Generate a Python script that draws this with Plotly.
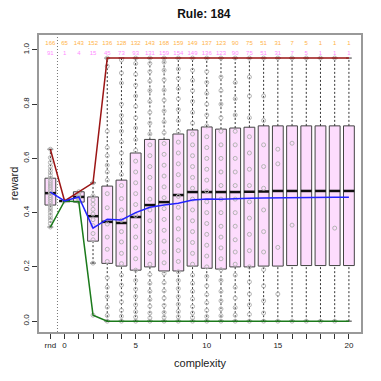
import plotly.graph_objects as go

labels = ["rnd"] + [str(i) for i in range(21)]
positions = [-1] + list(range(21))

q1 = [0.428, 0.443, 0.439, 0.295, 0.213, 0.203, 0.188, 0.200, 0.185, 0.185, 0.203,
      0.195, 0.192, 0.200, 0.200, 0.203, 0.203, 0.205, 0.205, 0.205, 0.205, 0.205]
median = [0.472, 0.443, 0.458, 0.387, 0.366, 0.362, 0.384, 0.428, 0.439, 0.465, 0.476,
          0.476, 0.476, 0.476, 0.477, 0.478, 0.480, 0.480, 0.480, 0.480, 0.480, 0.480]
q3 = [0.527, 0.443, 0.477, 0.458, 0.498, 0.520, 0.620, 0.670, 0.670, 0.690, 0.705,
      0.716, 0.708, 0.712, 0.715, 0.720, 0.720, 0.720, 0.720, 0.720, 0.720, 0.720]
whisk_lo = [0.347, 0.443, 0.440, 0.214] + [0.0] * 18
whisk_hi = [0.634, 0.443, 0.477, 0.510] + [0.97] * 18

max_vals = [0.634, 0.443, 0.477, 0.510] + [0.97] * 18
min_vals = [0.347, 0.443, 0.440, 0.022] + [0.0] * 18
mean_vals = [0.476, 0.443, 0.458, 0.343, 0.376, 0.373, 0.400, 0.420, 0.428, 0.435, 0.447,
             0.450, 0.449, 0.452, 0.453, 0.454, 0.455, 0.456, 0.456, 0.457, 0.457, 0.457]

count_top = [166, 65, 143, 152, 136, 128, 132, 143, 168, 159, 149, 137, 123, 90, 75, 51, 31, 7, 5, 1, 1, 1]
count_bot = [91, 1, 4, 15, 45, 73, 93, 131, 159, 154, 149, 136, 123, 90, 75, 51, 31, 7, 5, 1, 1, 1]

points = [
    [0.347, 0.36, 0.372, 0.381, 0.39, 0.401, 0.409, 0.418, 0.426, 0.433, 0.441, 0.449, 0.456,
     0.463, 0.471, 0.478, 0.486, 0.494, 0.502, 0.51, 0.518, 0.527, 0.536, 0.547, 0.558, 0.571,
     0.585, 0.603, 0.634],
    [0.443],
    [0.44, 0.446, 0.452, 0.458, 0.463, 0.469, 0.477],
    [0.022, 0.214, 0.3, 0.323, 0.352, 0.374, 0.395, 0.412, 0.431, 0.447, 0.462, 0.51],
    [0.0, 0.021, 0.052, 0.09, 0.125, 0.16, 0.22, 0.265, 0.31, 0.358, 0.418, 0.47, 0.52,
     0.55, 0.575, 0.61, 0.64, 0.70, 0.94, 0.97],
    [0.0, 0.018, 0.04, 0.071, 0.1, 0.133, 0.17, 0.212, 0.25, 0.292, 0.33, 0.372, 0.41, 0.452,
     0.5, 0.541, 0.582, 0.62, 0.661, 0.7, 0.733, 0.758, 0.8, 0.878, 0.915, 0.963],
    [0.0, 0.015, 0.035, 0.06, 0.09, 0.118, 0.15, 0.188, 0.23, 0.27, 0.31, 0.35, 0.39, 0.43,
     0.47, 0.51, 0.55, 0.59, 0.63, 0.67, 0.712, 0.75, 0.792, 0.83, 0.87, 0.91, 0.95, 0.97],
    [0.0, 0.012, 0.03, 0.055, 0.08, 0.11, 0.14, 0.172, 0.21, 0.25, 0.29, 0.33, 0.37, 0.41,
     0.45, 0.49, 0.53, 0.57, 0.61, 0.65, 0.69, 0.73, 0.77, 0.81, 0.85, 0.885, 0.92, 0.95, 0.97],
    [0.0, 0.014, 0.032, 0.058, 0.085, 0.112, 0.142, 0.176, 0.215, 0.255, 0.295, 0.335, 0.375,
     0.415, 0.455, 0.495, 0.535, 0.575, 0.615, 0.655, 0.695, 0.735, 0.775, 0.815, 0.852,
     0.89, 0.925, 0.955, 0.97],
    [0.0, 0.016, 0.036, 0.062, 0.09, 0.12, 0.15, 0.182, 0.22, 0.26, 0.3, 0.34, 0.38, 0.42,
     0.46, 0.5, 0.54, 0.58, 0.62, 0.66, 0.7, 0.74, 0.78, 0.82, 0.858, 0.895, 0.93, 0.97],
    [0.0, 0.013, 0.03, 0.054, 0.082, 0.11, 0.14, 0.17, 0.21, 0.25, 0.29, 0.33, 0.37, 0.41,
     0.45, 0.49, 0.53, 0.57, 0.61, 0.65, 0.69, 0.73, 0.77, 0.81, 0.85, 0.888, 0.925, 0.97],
    [0.0, 0.017, 0.04, 0.068, 0.098, 0.13, 0.165, 0.2, 0.24, 0.28, 0.32, 0.36, 0.4, 0.44,
     0.48, 0.52, 0.56, 0.6, 0.64, 0.68, 0.72, 0.76, 0.8, 0.84, 0.88, 0.92, 0.97],
    [0.0, 0.02, 0.045, 0.075, 0.11, 0.15, 0.19, 0.23, 0.27, 0.31, 0.35, 0.4, 0.45, 0.5,
     0.55, 0.6, 0.65, 0.7, 0.75, 0.8, 0.85, 0.9, 0.97],
    [0.0, 0.022, 0.05, 0.085, 0.125, 0.17, 0.21, 0.255, 0.3, 0.35, 0.4, 0.45, 0.5, 0.55,
     0.6, 0.65, 0.7, 0.76, 0.82, 0.88, 0.97],
    [0.0, 0.025, 0.06, 0.1, 0.145, 0.2, 0.26, 0.32, 0.38, 0.44, 0.5, 0.56, 0.62, 0.68, 0.75,
     0.83, 0.9, 0.97],
    [0.0, 0.03, 0.075, 0.13, 0.19, 0.255, 0.33, 0.41, 0.49, 0.57, 0.65, 0.74, 0.83, 0.97],
    [0.0, 0.1, 0.272, 0.58, 0.634, 0.97],
    [0.0, 0.354, 0.656, 0.97],
    [0.0, 0.97],
    [0.0, 0.97],
    [0.0, 0.343, 0.97],
]

half_w = 0.38
staple_w = 0.2

fig = go.Figure()

# separator between random baseline and complexity boxes
fig.add_trace(go.Scatter(x=[-0.5, -0.5], y=[-0.04, 1.055], mode="lines",
                         line=dict(color="#777777", width=1, dash="1px,2px"),
                         hoverinfo="skip", showlegend=False))

# boxes
bx, by = [], []
for p, a, b in zip(positions, q1, q3):
    bx += [p - half_w, p + half_w, p + half_w, p - half_w, p - half_w, None]
    by += [a, a, b, b, a, None]
fig.add_trace(go.Scatter(x=bx, y=by, mode="lines", fill="toself",
                         fillcolor="#FDDCFD", line=dict(color="#444444", width=1),
                         hoverinfo="skip", showlegend=False))

# whiskers
wx, wy = [], []
for p, a, b, lo, hi in zip(positions, q1, q3, whisk_lo, whisk_hi):
    wx += [p, p, None, p, p, None]
    wy += [lo, a, None, b, hi, None]
fig.add_trace(go.Scatter(x=wx, y=wy, mode="lines",
                         line=dict(color="#333333", width=1, dash="2px,2px"),
                         hoverinfo="skip", showlegend=False))

# staples
sx, sy = [], []
for p, lo, hi in zip(positions, whisk_lo, whisk_hi):
    sx += [p - staple_w, p + staple_w, None, p - staple_w, p + staple_w, None]
    sy += [lo, lo, None, hi, hi, None]
fig.add_trace(go.Scatter(x=sx, y=sy, mode="lines",
                         line=dict(color="#333333", width=1),
                         hoverinfo="skip", showlegend=False))

# medians
mx, my = [], []
for p, m in zip(positions, median):
    mx += [p - half_w, p + half_w, None]
    my += [m, m, None]
fig.add_trace(go.Scatter(x=mx, y=my, mode="lines",
                         line=dict(color="#111111", width=2.5),
                         hoverinfo="skip", showlegend=False))

# data points
px, py = [], []
for p, vals in zip(positions, points):
    px += [p] * len(vals)
    py += vals
fig.add_trace(go.Scatter(x=px, y=py, mode="markers",
                         marker=dict(symbol="circle-open", size=4,
                                     color="#B4B4B4", line=dict(width=1)),
                         hoverinfo="skip", showlegend=False))

# max / min / mean lines
fig.add_trace(go.Scatter(x=positions, y=max_vals, mode="lines",
                         line=dict(color="#9B1515", width=1.5), showlegend=False))
fig.add_trace(go.Scatter(x=positions, y=min_vals, mode="lines",
                         line=dict(color="#1B7A1B", width=1.5), showlegend=False))
fig.add_trace(go.Scatter(x=positions, y=mean_vals, mode="lines",
                         line=dict(color="#2222FF", width=1.5), showlegend=False))

# counts
fig.add_trace(go.Scatter(x=positions, y=[1.022] * len(positions), mode="text",
                         text=[str(c) for c in count_top],
                         textfont=dict(size=6, color="#FFB347", family="Liberation Sans"),
                         hoverinfo="skip", showlegend=False))
fig.add_trace(go.Scatter(x=positions, y=[0.985] * len(positions), mode="text",
                         text=[str(c) for c in count_bot],
                         textfont=dict(size=6, color="#FF8CFF", family="Liberation Sans"),
                         hoverinfo="skip", showlegend=False))

tick_text = [lab if lab in ("rnd", "0", "5", "10", "15", "20") else "" for lab in labels]

fig.update_layout(
    width=373, height=373,
    margin=dict(l=31, r=20, t=27, b=49),
    paper_bgcolor="white", plot_bgcolor="white",
    font=dict(family="Liberation Sans", size=9, color="#222222"),
    title=dict(text="<b>Rule: 184</b>", x=0.525, xanchor="center", y=0.984, yanchor="middle",
               font=dict(size=12, color="#111111")),
    xaxis=dict(range=[-1.8, 20.85], tickmode="array", tickvals=positions, ticktext=tick_text,
               ticks="outside", ticklen=5, tickcolor="#333333", showgrid=False, zeroline=False,
               showline=True, linecolor="#999999", linewidth=1.5, mirror=True, automargin=False,
               title=dict(text="complexity", font=dict(size=11), standoff=10),
               tickfont=dict(size=8)),
    yaxis=dict(range=[-0.04, 1.055], tickmode="array", tickvals=[0, 0.2, 0.4, 0.6, 0.8, 1.0],
               ticktext=["0.0", "0.2", "0.4", "0.6", "0.8", "1.0"], tickangle=-90,
               ticks="outside", ticklen=5, tickcolor="#333333", showgrid=False, zeroline=False,
               showline=True, linecolor="#999999", linewidth=1.5, mirror=True, automargin=False,
               title=dict(text="reward", font=dict(size=11), standoff=6),
               tickfont=dict(size=8)),
)

fig.write_html("out.html")
